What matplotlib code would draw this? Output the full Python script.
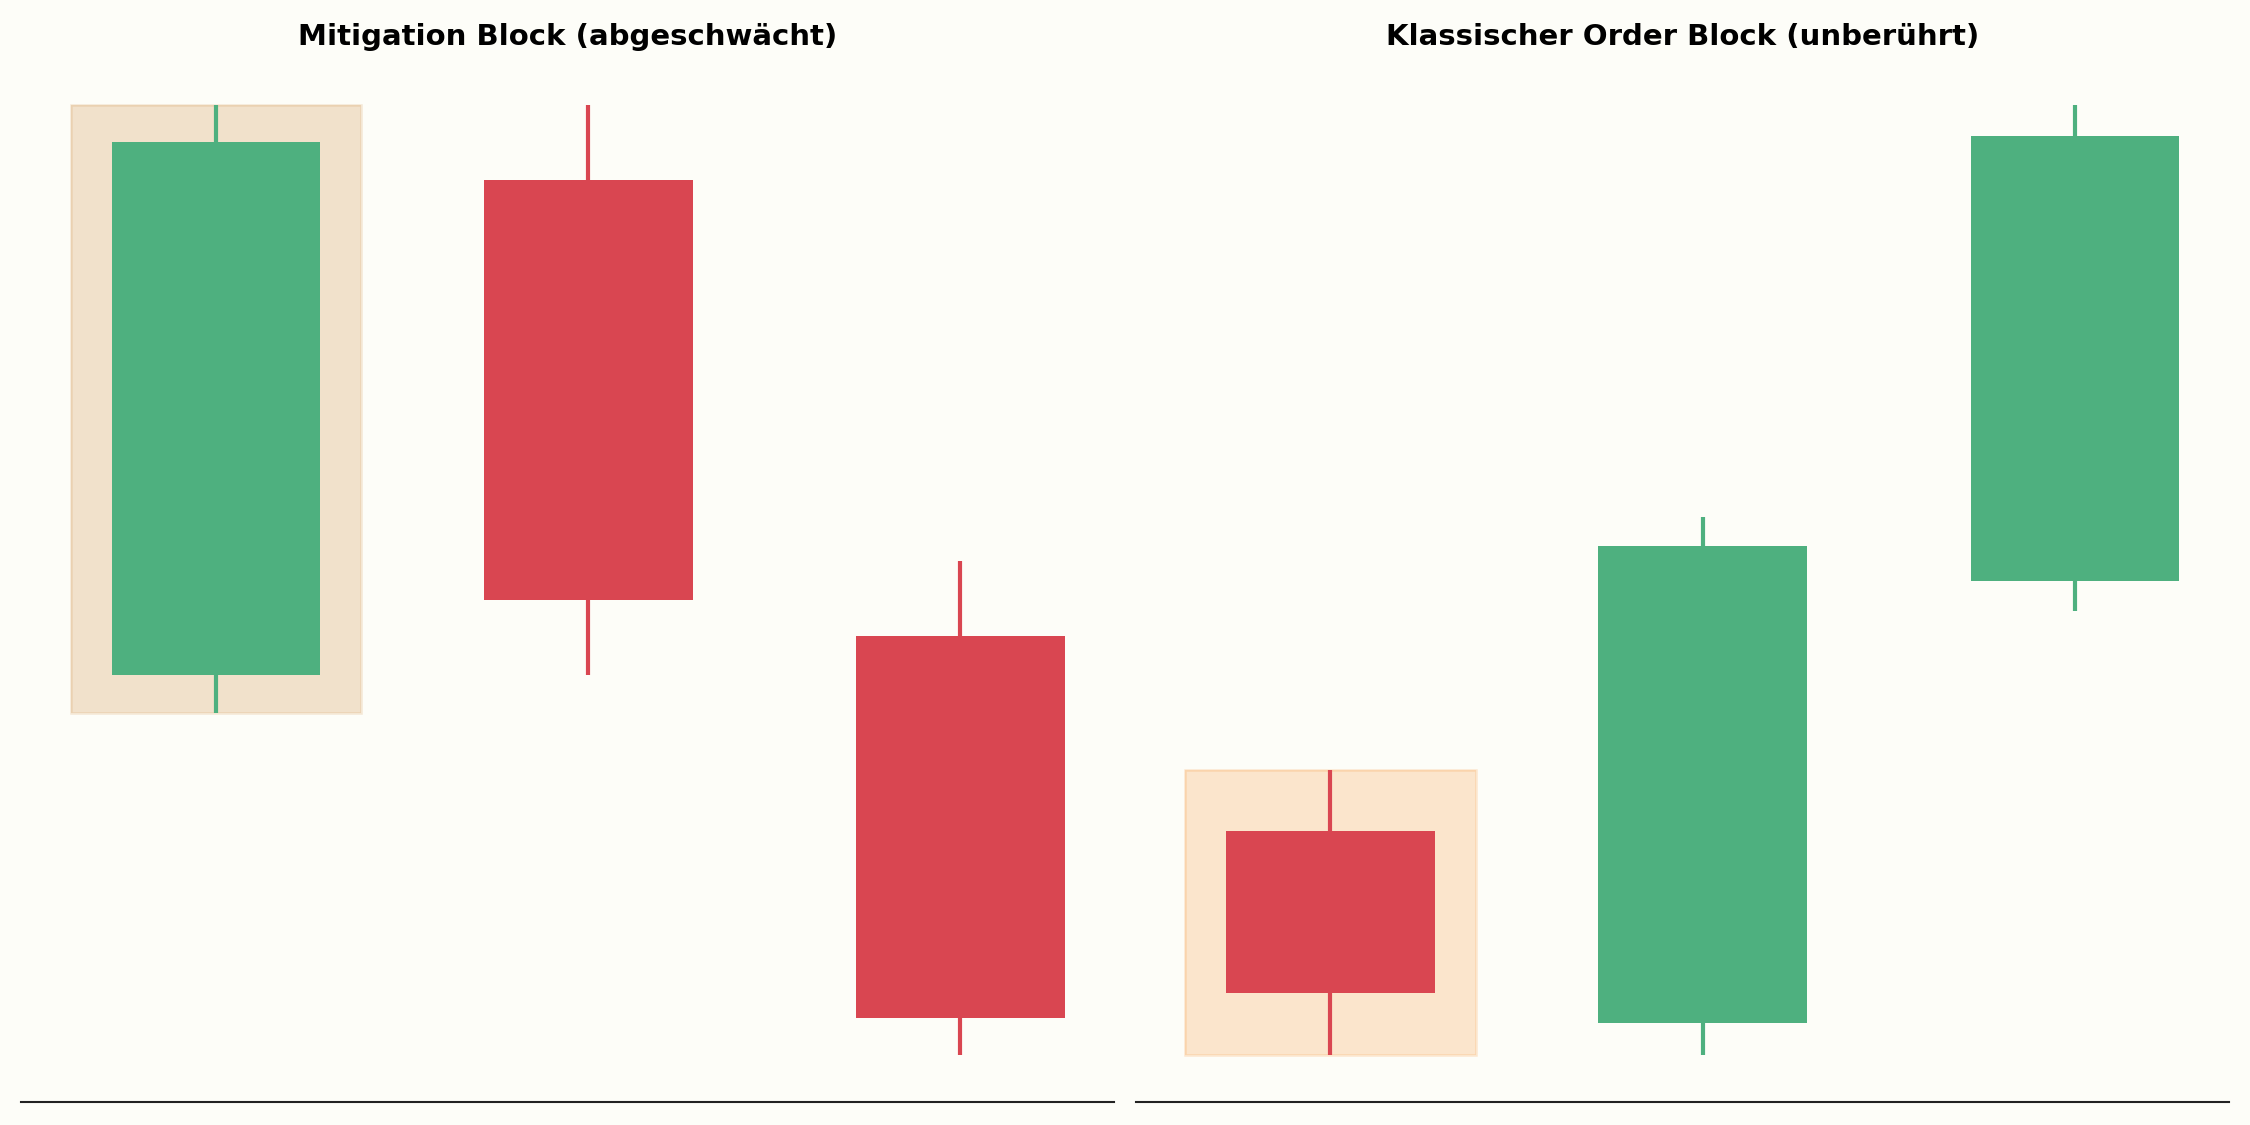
import matplotlib.pyplot as plt
from matplotlib.patches import Rectangle

# ── Candle data (open, close, high, low) ──────────────────────────────────────
titles = ["Mitigation Block (abgeschwächt)", "Klassischer Order Block (unberührt)"]

left_open  = [140.0, 192.1, 144.1]
left_close = [196.1, 147.9, 103.9]
left_high  = [200.0, 200.0, 152.0]
left_low   = [136.0, 140.0, 100.0]

right_open  = [123.5, 103.3, 149.9]
right_close = [106.5, 153.5, 196.7]
right_high  = [130.0, 156.6, 200.0]
right_low   = [100.0, 100.0, 146.7]

# which candle gets the order block box, and box colours per panel
block_index = [0, 0]
block_face  = [("#D59958", 0.28), ("#F8A24E", 0.26)]
block_edge  = [("#D59958", 0.22), ("#F8A24E", 0.25)]

GREEN = "#4EB07F"
RED   = "#D94651"
BG    = "#FDFDF8"

panels = [
    (left_open, left_close, left_high, left_low),
    (right_open, right_close, right_high, right_low),
]

fig, axes = plt.subplots(1, 2, figsize=(15, 7.5), dpi=150)
fig.patch.set_facecolor(BG)
fig.subplots_adjust(left=0.0095, right=0.9905, bottom=0.0204, top=0.949, wspace=0.0195)

body_w = 0.56
box_w = 0.78

for ax, title, (o, c, h, l), bi, (fc, fa), (ec, ea) in zip(
        axes, titles, panels, block_index, block_face, block_edge):
    ax.set_facecolor(BG)
    x = list(range(len(o)))
    colors = [GREEN if cc >= oo else RED for oo, cc in zip(o, c)]

    # order block highlight box — spans the high/low of the block candle
    box = Rectangle((x[bi] - box_w / 2, l[bi]), box_w, h[bi] - l[bi],
                    facecolor=fc, alpha=fa, edgecolor="none", zorder=1)
    ax.add_patch(box)
    edge = Rectangle((x[bi] - box_w / 2, l[bi]), box_w, h[bi] - l[bi],
                     facecolor="none", edgecolor=ec, alpha=ea, linewidth=1.2, zorder=1)
    ax.add_patch(edge)

    # wicks then bodies
    ax.vlines(x, l, h, colors=colors, linewidth=2, zorder=2)
    bottoms = [min(oo, cc) for oo, cc in zip(o, c)]
    heights = [abs(cc - oo) for oo, cc in zip(o, c)]
    ax.bar(x, heights, bottom=bottoms, width=body_w, color=colors, zorder=3)

    ax.set_title(title, fontsize=14, fontweight="bold")
    ax.set_xticks([])
    ax.set_yticks([])
    for side in ["top", "left", "right"]:
        ax.spines[side].set_visible(False)
    ax.spines["bottom"].set_color("#222222")
    ax.spines["bottom"].set_linewidth(1.0)

fig.savefig("out.png", dpi=150, facecolor=BG)
